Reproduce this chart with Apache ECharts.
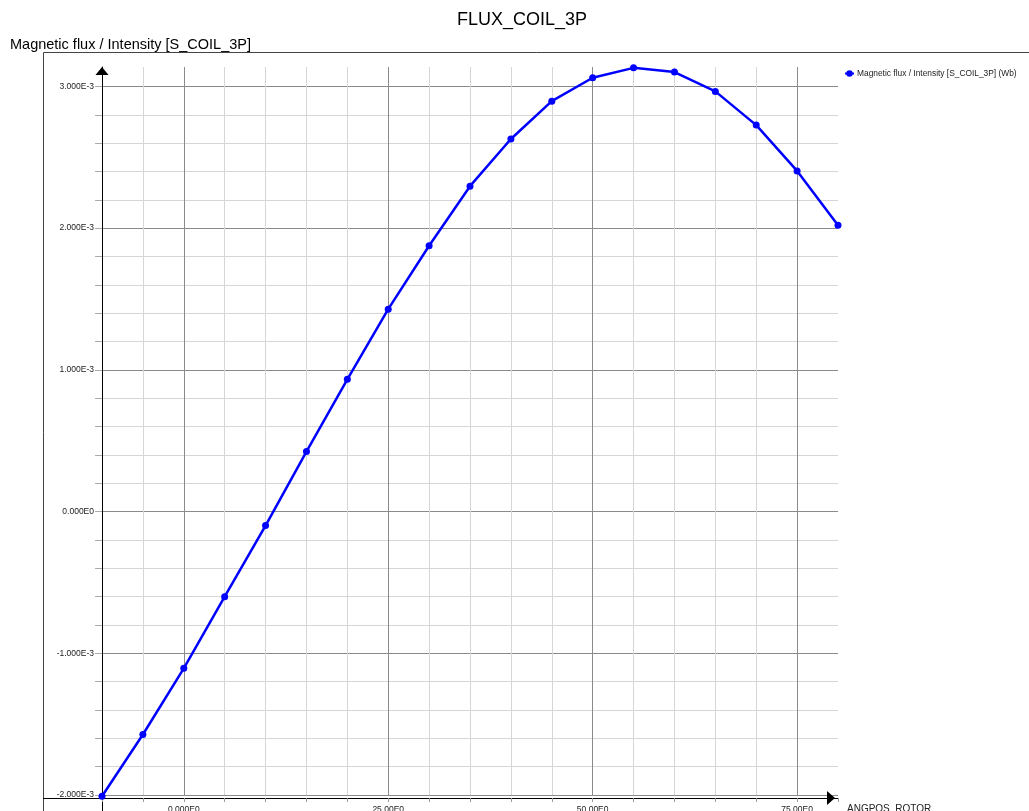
<!DOCTYPE html>
<html>
<head>
<meta charset="utf-8">
<script src="https://cdn.jsdelivr.net/npm/echarts@6/dist/echarts.min.js"></script>
<style>
html,body{margin:0;padding:0;background:#fff;}
#c{width:1029px;height:811px;}
</style>
</head>
<body>
<div id="c"></div>
<script>
const chartTitle = 'FLUX_COIL_3P';
const yTitle = 'Magnetic flux / Intensity [S_COIL_3P]';
const xTitle = 'ANGPOS_ROTOR';
const seriesName = 'Magnetic flux / Intensity [S_COIL_3P] (Wb)';

const angle = [-10, -5, 0, 5, 10, 15, 20, 25, 30, 35, 40, 45, 50, 55, 60, 65, 70, 75, 80];
const flux = [-2.009e-3, -1.573e-3, -1.106e-3, -0.601e-3, -0.099e-3, 0.423e-3, 0.933e-3, 1.428e-3,
              1.876e-3, 2.296e-3, 2.629e-3, 2.896e-3, 3.061e-3, 3.131e-3, 3.101e-3, 2.965e-3,
              2.727e-3, 2.404e-3, 2.021e-3];

const xLabelValues = [0, 25, 50, 75];
const xLabelTexts = ['0.000E0', '25.00E0', '50.00E0', '75.00E0'];
const yLabelValues = [-2e-3, -1e-3, 0, 1e-3, 2e-3, 3e-3];
const yLabelTexts = ['-2.000E-3', '-1.000E-3', '0.000E0', '1.000E-3', '2.000E-3', '3.000E-3'];

const FONT = "'Liberation Sans', Arial, sans-serif";
const MAJOR = '#8a8a8a';
const MINOR = '#d6d6d6';

function findLabel(vals, texts, v, tol) {
  for (let i = 0; i < vals.length; i++) {
    if (Math.abs(vals[i] - v) < tol) return texts[i];
  }
  return '';
}

const chart = echarts.init(document.getElementById('c'), null, {renderer: 'canvas'});
chart.setOption({
  animation: false,
  backgroundColor: '#fff',
  title: [
    {text: chartTitle, left: 517, top: 6, textAlign: 'center',
     textStyle: {fontFamily: FONT, fontSize: 18, fontWeight: 'normal', color: '#000'}},
    {text: yTitle, left: 5, top: 32,
     textStyle: {fontFamily: FONT, fontSize: 14.5, fontWeight: 'normal', color: '#000'}}
  ],
  legend: {
    left: 844, top: 69.5, padding: 0, itemWidth: 9, itemHeight: 8, itemGap: 4,
    textStyle: {fontFamily: FONT, fontSize: 8.4, color: '#222', padding: [0, 0, 0, -2]},
    data: [seriesName]
  },
  grid: {left: 102, right: 191, top: 67, bottom: 16, containLabel: false, outerBoundsMode: 'none'},
  xAxis: {
    type: 'value', min: -10, max: 80, interval: 5, offset: 3,
    name: xTitle, nameLocation: 'end', nameGap: 9,
    nameTextStyle: {fontFamily: FONT, fontSize: 10, color: '#222', align: 'left', verticalAlign: 'top', padding: [6, 0, 0, 0]},
    axisLine: {show: true, onZero: false, lineStyle: {color: '#000', width: 1},
               symbol: ['none', 'triangle'], symbolSize: [14, 8], symbolOffset: [0, -7]},
    axisTick: {show: true, inside: false, length: 4, lineStyle: {color: '#999'}},
    axisLabel: {fontFamily: FONT, fontSize: 8.5, color: '#222', margin: 7,
                formatter: function (v) { return findLabel(xLabelValues, xLabelTexts, v, 1e-6); }},
    splitLine: {show: true, showMinLine: true, showMaxLine: false,
                lineStyle: {color: [MINOR, MINOR, MAJOR, MINOR, MINOR], width: 1}}
  },
  yAxis: {
    type: 'value', min: -2e-3, max: 3.137e-3, interval: 0.2e-3,
    axisLine: {show: true, onZero: false, lineStyle: {color: '#000', width: 1},
               symbol: ['none', 'triangle'], symbolSize: [13, 8], symbolOffset: [0, -4]},
    axisTick: {show: true, inside: false, length: 7, lineStyle: {color: '#aaa'}},
    axisLabel: {fontFamily: FONT, fontSize: 8.5, color: '#222', margin: 8, showMaxLabel: false,
                formatter: function (v) { return findLabel(yLabelValues, yLabelTexts, v, 1e-9); }},
    splitLine: {show: true, showMinLine: true, showMaxLine: false,
                lineStyle: {color: [MAJOR, MINOR, MINOR, MINOR, MINOR], width: 1}}
  },
  graphic: [
    {type: 'rect', z: 0, silent: true, shape: {x: 43.5, y: 52.5, width: 1100, height: 900},
     style: {fill: 'none', stroke: '#444', lineWidth: 1}},
    {type: 'line', z: 0, silent: true, shape: {x1: 43, y1: 798.5, x2: 102, y2: 798.5},
     style: {stroke: '#000', lineWidth: 1}},
    {type: 'line', z: 0, silent: true, shape: {x1: 102.5, y1: 794, x2: 102.5, y2: 811},
     style: {stroke: '#000', lineWidth: 1}}
  ],
  series: [{
    name: seriesName,
    type: 'line',
    data: angle.map(function (a, i) { return [a, flux[i]]; }),
    symbol: 'circle', symbolSize: 7, showSymbol: true, showAllSymbol: true,
    itemStyle: {color: '#0000ff'},
    lineStyle: {color: '#0000ff', width: 2.5},
    clip: false, z: 5
  }]
});
</script>
</body>
</html>
